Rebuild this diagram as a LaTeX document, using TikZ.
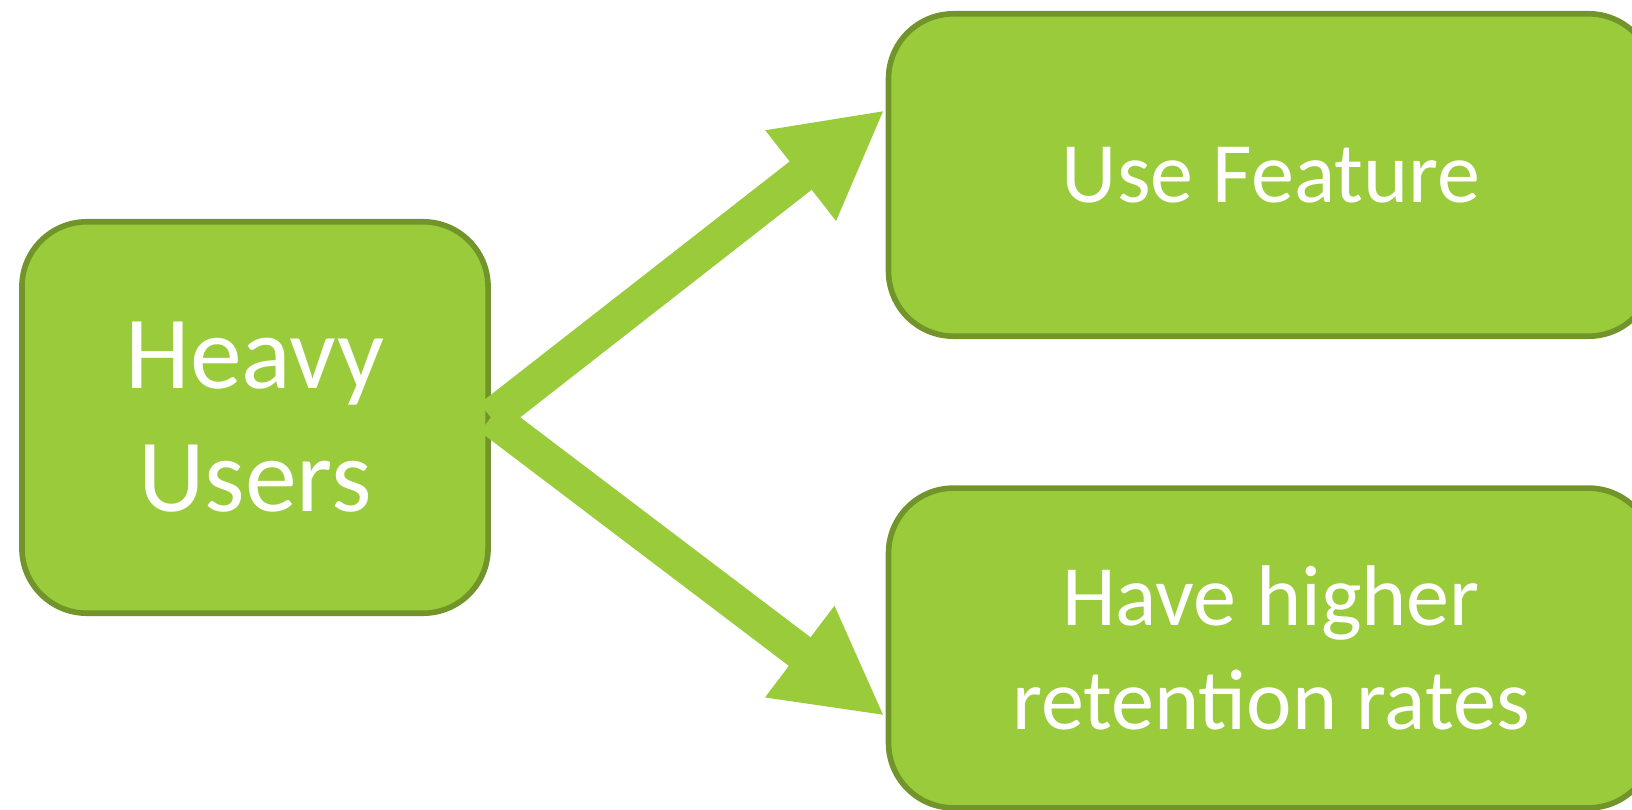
\documentclass[tikz,border=0pt]{standalone}
\usepackage{fontspec}
\setmainfont{Carlito}
\usetikzlibrary{arrows.meta,calc}
\definecolor{boxfill}{HTML}{9ACB3A}
\definecolor{boxline}{HTML}{71952A}
\begin{document}
\begin{tikzpicture}[x=0.02cm,y=-0.02cm,
  box/.style={draw=boxline, fill=boxfill, line width=3.2pt, rounded corners=37pt,
    text=white, align=center, inner sep=0pt},
  flow/.style={draw=boxfill, line width=20.4pt,
    -{Triangle[length=60.7pt,width=60.7pt]}}]
\useasboundingbox (0,0) rectangle (1632,810);
\clip (0,0) rectangle (1632,810);
\node[box, minimum width=265.3pt, minimum height=222.8pt,
  font=\fontsize{59pt}{70pt}\selectfont] (heavy) at (255,417.5) {Heavy\\Users};
\node[box, minimum width=435.4pt, minimum height=183.5pt,
  font=\fontsize{49pt}{59pt}\selectfont] (use) at (1271,175) {Use Feature};
\node[box, minimum width=435.4pt, minimum height=182pt,
  font=\fontsize{49pt}{59pt}\selectfont] (ret) at (1271,648) {Have higher\\retention rates};
\coordinate (t1) at ($(use.west)+(-1,-65)$);
\coordinate (t2) at ($(ret.west)+(-1,68)$);
\draw[flow] (heavy.east) -- (t1);
\draw[flow] (heavy.east) -- (t2);
\end{tikzpicture}
\end{document}
